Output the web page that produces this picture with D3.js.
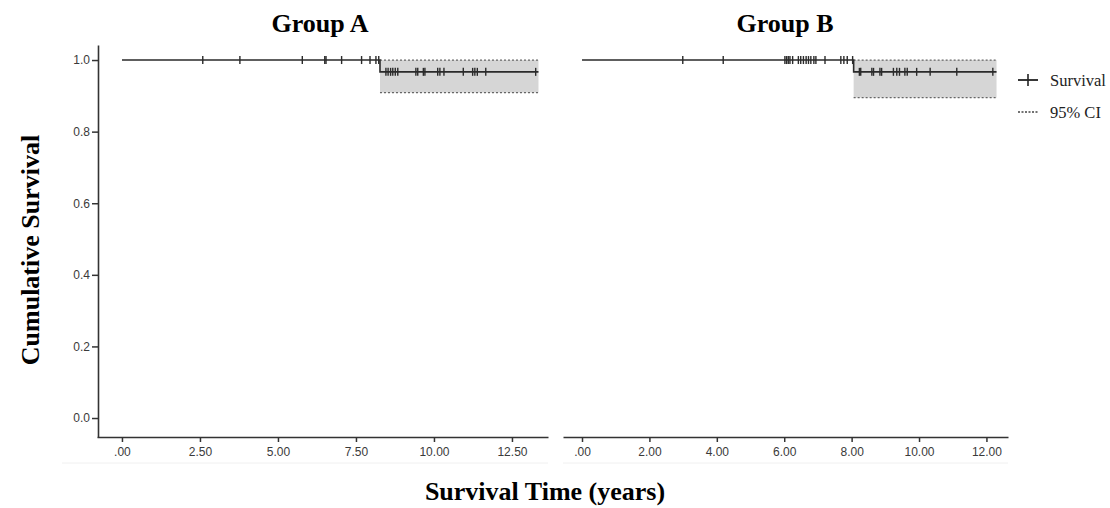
<!DOCTYPE html>
<html><head><meta charset="utf-8">
<script src="https://cdn.jsdelivr.net/npm/d3@7"></script>
<style>body{margin:0;background:#fff}svg{display:block}</style>
</head><body>
<svg id="c" width="1110" height="508"></svg>
<script>
// ---- data ----
const panelTitles = ["Group A", "Group B"];
const yTickValues = [0, 0.2, 0.4, 0.6, 0.8, 1.0];
const yTickLabels = ["0.0", "0.2", "0.4", "0.6", "0.8", "1.0"];
const xTicksA = [0, 2.5, 5, 7.5, 10, 12.5];
const xTickLabelsA = [".00", "2.50", "5.00", "7.50", "10.00", "12.50"];
const xTicksB = [0, 2, 4, 6, 8, 10, 12];
const xTickLabelsB = [".00", "2.00", "4.00", "6.00", "8.00", "10.00", "12.00"];

// survival step points (time, survival)
const stepTimesA = [0, 8.27];
const stepSurvA = [1.0, 0.967];
const endTimeA = 13.35;
const stepTimesB = [0, 8.06];
const stepSurvB = [1.0, 0.967];
const endTimeB = 12.30;

// 95% CI band after the event
const ciLowA = [0.909];
const ciHighA = [1.0];
const ciLowB = [0.895];
const ciHighB = [1.0];

// censored times
const censorA = [2.59, 3.78, 5.78, 6.50, 6.54, 7.04, 7.68, 7.95, 8.14, 8.23,
  8.46, 8.53, 8.61, 8.68, 8.76, 8.84, 9.42, 9.48, 9.66, 9.71, 10.12, 10.19, 10.32,
  10.94, 11.24, 11.31, 11.39, 11.66, 13.26];
const censorB = [2.99, 4.19, 6.02, 6.07, 6.12, 6.17, 6.25, 6.42, 6.49, 6.57, 6.65,
  6.72, 6.79, 6.88, 6.94, 7.21, 7.68, 7.77, 7.87, 8.03,
  8.23, 8.27, 8.60, 8.65, 8.84, 8.89, 9.24, 9.34, 9.42, 9.58, 9.65, 9.93, 10.33, 11.12, 12.19];

// ---- drawing ----
const svg = d3.select("#c");
const serif = "'Liberation Serif','Times New Roman',serif";
const sans = "'Liberation Sans',Arial,sans-serif";
const lineCol = "#2a2a2a";

const y = d3.scaleLinear().domain([-0.053, 1.042]).range([437, 45]);

const panels = [
  {title: panelTitles[0], x: d3.scaleLinear().domain([-0.8, 13.655]).range([97, 548]),
   ticks: xTicksA, labels: xTickLabelsA, st: stepTimesA, ss: stepSurvA, end: endTimeA,
   lo: ciLowA, hi: ciHighA, cens: censorA, yAxis: true, frameX0: 62, tx: 320},
  {title: panelTitles[1], x: d3.scaleLinear().domain([-0.564, 12.64]).range([563, 1008]),
   ticks: xTicksB, labels: xTickLabelsB, st: stepTimesB, ss: stepSurvB, end: endTimeB,
   lo: ciLowB, hi: ciHighB, cens: censorB, yAxis: false, frameX0: 563, tx: 785}
];

panels.forEach(p => {
  const x = p.x;
  const g = svg.append("g");
  const [r0, r1] = x.range();

  // faint frame line under labels
  g.append("line").attr("x1", p.frameX0).attr("x2", r1).attr("y1", 463).attr("y2", 463)
    .attr("stroke", "#f0f0f0").attr("stroke-width", 1);

  // CI band
  const ciStart = p.st[1];
  g.append("rect")
    .attr("x", x(ciStart)).attr("width", x(p.end) - x(ciStart))
    .attr("y", y(p.hi[0])).attr("height", y(p.lo[0]) - y(p.hi[0]))
    .attr("fill", "#d6d6d6");
  [p.hi[0], p.lo[0]].forEach(v => {
    g.append("line").attr("x1", x(ciStart)).attr("x2", x(p.end))
      .attr("y1", y(v)).attr("y2", y(v))
      .attr("stroke", "#666").attr("stroke-width", 1.2).attr("stroke-dasharray", "2,2");
  });

  // survival step line
  const pts = p.st.map((t, i) => [t, p.ss[i]]);
  pts.push([p.end, p.ss[p.ss.length - 1]]);
  const line = d3.line().x(d => x(d[0])).y(d => y(d[1])).curve(d3.curveStepAfter);
  g.append("path").attr("d", line(pts)).attr("fill", "none")
    .attr("stroke", lineCol).attr("stroke-width", 1.6);

  // censor marks
  const survAt = t => { let s = p.ss[0]; p.st.forEach((tt, i) => { if (t >= tt) s = p.ss[i]; }); return s; };
  g.selectAll("line.cens").data(p.cens).join("line").attr("class", "cens")
    .attr("x1", d => x(d)).attr("x2", d => x(d))
    .attr("y1", d => y(survAt(d)) - 4).attr("y2", d => y(survAt(d)) + 4)
    .attr("stroke", lineCol).attr("stroke-width", 1.4);

  // x axis
  const xa = g.append("g").attr("transform", "translate(0,437)")
    .call(d3.axisBottom(x).tickValues(p.ticks).tickSize(5).tickSizeOuter(0)
      .tickFormat((d, i) => p.labels[i]));
  xa.select(".domain").attr("stroke", "#333").attr("stroke-width", 1.6);
  xa.selectAll(".tick line").attr("stroke", "#333").attr("stroke-width", 1.5);
  xa.selectAll(".tick text").attr("font-family", sans).attr("font-size", 12)
    .attr("fill", "#3a3a3a").attr("dy", "0.95em");

  // y axis
  if (p.yAxis) {
    const ya = g.append("g").attr("transform", `translate(${r0 + 1},0)`)
      .call(d3.axisLeft(y).tickValues(yTickValues).tickSize(6).tickSizeOuter(0)
        .tickFormat((d, i) => yTickLabels[i]));
    ya.select(".domain").attr("stroke", "#333").attr("stroke-width", 1.6);
    ya.selectAll(".tick line").attr("stroke", "#333").attr("stroke-width", 1.5);
    ya.selectAll(".tick text").attr("font-family", sans).attr("font-size", 12)
      .attr("fill", "#3a3a3a").attr("x", -8);
  }

  // panel title
  svg.append("text").attr("x", p.tx).attr("y", 32).attr("text-anchor", "middle")
    .attr("font-family", serif).attr("font-weight", "bold").attr("font-size", 26)
    .text(p.title);
});

// axis titles
svg.append("text").attr("transform", "translate(39,250) rotate(-90)")
  .attr("text-anchor", "middle").attr("font-family", serif).attr("font-weight", "bold")
  .attr("font-size", 26).text("Cumulative Survival");
svg.append("text").attr("x", 545).attr("y", 500).attr("text-anchor", "middle")
  .attr("font-family", serif).attr("font-weight", "bold").attr("font-size", 26)
  .text("Survival Time (years)");

// legend
const leg = svg.append("g");
leg.append("line").attr("x1", 1018).attr("x2", 1038).attr("y1", 80).attr("y2", 80)
  .attr("stroke", "#222").attr("stroke-width", 1.8);
leg.append("line").attr("x1", 1028).attr("x2", 1028).attr("y1", 74).attr("y2", 86)
  .attr("stroke", "#222").attr("stroke-width", 1.6);
leg.append("line").attr("x1", 1018).attr("x2", 1038).attr("y1", 112).attr("y2", 112)
  .attr("stroke", "#444").attr("stroke-width", 1.4).attr("stroke-dasharray", "2,1.5");
leg.append("text").attr("x", 1050).attr("y", 86).attr("font-family", serif)
  .attr("font-size", 16.5).attr("fill", "#222").text("Survival");
leg.append("text").attr("x", 1050).attr("y", 118).attr("font-family", serif)
  .attr("font-size", 16.5).attr("fill", "#222").text("95% CI");
</script>
</body></html>
